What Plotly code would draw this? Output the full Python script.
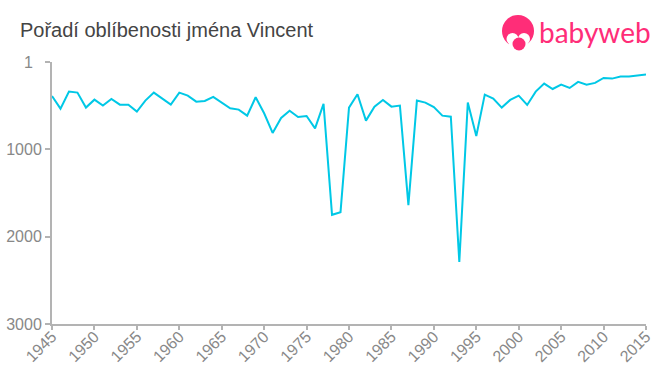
import plotly.graph_objects as go

years = list(range(1945, 2016))
ranks = [390, 535, 340, 351, 523, 432, 500, 424, 489, 489,
         569, 443, 351, 424, 489, 351, 386, 455, 447, 401,
         462, 531, 546, 615, 405, 588, 813, 642, 558, 630,
         619, 760, 481, 1750, 1720, 523, 370, 672, 512, 435,
         512, 500, 1640, 443, 466, 516, 615, 627, 2290, 466,
         848, 374, 420, 523, 435, 386, 493, 340, 248, 310,
         260, 298, 229, 260, 240, 183, 191, 168, 168, 156, 145]
y_ticks = [1, 1000, 2000, 3000]
y_labels = ["1\u00a0\u00a0", "1000", "2000", "3000"]
x_ticks = list(range(1945, 2016, 5))
title_text = "Pořadí oblíbenosti jména Vincent"
brand_text = "babyweb"

W, H = 660, 375
L, R, T, B = 52, 14, 62, 51
PINK = "#ff2d78"
AXIS = "#b3b3b3"
TICKTXT = "#888888"


def px(x):
    return (x - L) / (W - L - R)


def py(y):
    return 1 - (y - T) / (H - T - B)


def circle(cx, cy, rx, ry, color):
    return dict(type="circle", xref="paper", yref="paper", layer="above",
                x0=px(cx - rx), x1=px(cx + rx), y0=py(cy + ry), y1=py(cy - ry),
                fillcolor=color, line=dict(width=0))


fig = go.Figure(go.Scatter(x=years, y=ranks, mode="lines", cliponaxis=False,
                           line=dict(color="#00c8e6", width=2), hoverinfo="skip"))

fig.update_layout(
    width=W, height=H, autosize=False,
    margin=dict(l=L, r=R, t=T, b=B, pad=0),
    paper_bgcolor="white", plot_bgcolor="white",
    showlegend=False,
    font=dict(family="Liberation Sans, Arial, sans-serif"),
    xaxis=dict(range=[1945, 2015], tickvals=x_ticks, ticktext=[str(v) for v in x_ticks],
               tickangle=-45, ticks="outside", ticklen=4, tickwidth=2, tickcolor=AXIS,
               showline=True, linecolor=AXIS, linewidth=2, showgrid=False, zeroline=False,
               automargin=False, ticklabelstandoff=-9,
               tickfont=dict(size=16, color=TICKTXT)),
    yaxis=dict(range=[3000, 1], tickvals=y_ticks, ticktext=y_labels,
               ticks="outside", ticklen=5, tickwidth=2, tickcolor=AXIS,
               showline=True, linecolor=AXIS, linewidth=2, showgrid=False, zeroline=False,
               automargin=False, tickfont=dict(size=16, color=TICKTXT)),
    annotations=[
        dict(text=title_text, xref="paper", yref="paper", x=px(18), y=py(30),
             xanchor="left", yanchor="middle", showarrow=False,
             font=dict(size=20, color="#444444")),
        dict(text=brand_text, xref="paper", yref="paper", x=px(537), y=py(32),
             xanchor="left", yanchor="middle", showarrow=False,
             font=dict(family="Lato, sans-serif", size=28, color=PINK)),
    ],
    shapes=[
        circle(518, 31, 16, 16, PINK),
        circle(512.5, 39, 6, 6, "white"),
        circle(524, 39, 6, 6, "white"),
        circle(518, 46, 9.5, 8, "white"),
        circle(519, 44, 6.5, 6.5, PINK),
    ],
)

fig.write_html("out.html", config=dict(displayModeBar=False),
               post_script="document.body.style.margin='0';")
